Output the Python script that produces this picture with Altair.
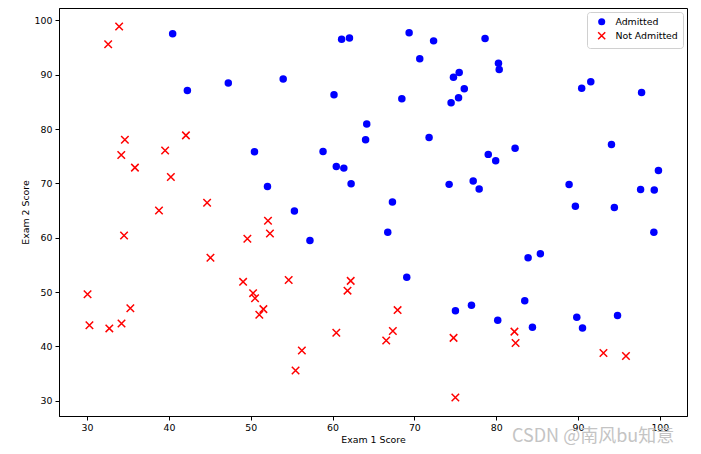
import altair as alt
import pandas as pd

adm_exam1 = [60.18, 79.03, 61.11, 75.02, 76.10, 84.43, 82.31, 69.36, 53.97, 69.07,
             70.66, 76.98, 89.68, 77.92, 62.27, 80.19, 61.38, 85.40, 52.05, 64.18,
             83.90, 94.44, 77.19, 97.77, 62.07, 91.56, 79.94, 99.27, 90.55, 97.65,
             74.25, 71.80, 75.40, 40.46, 80.28, 66.75, 64.04, 72.35, 60.46, 58.84,
             99.83, 47.26, 50.46, 88.91, 94.83, 67.32, 57.24, 80.37, 68.47, 75.48,
             78.64, 94.09, 90.45, 74.49, 89.85, 83.49, 42.26, 99.32, 55.34, 74.78]
adm_exam2 = [86.31, 75.34, 96.51, 46.55, 87.42, 43.53, 76.48, 97.72, 89.21, 52.74,
             92.93, 47.58, 65.80, 68.97, 69.95, 44.82, 72.81, 57.05, 69.43, 80.91,
             56.31, 65.57, 70.46, 86.73, 96.77, 88.70, 74.16, 61.00, 43.39, 68.86,
             69.82, 78.45, 85.76, 97.54, 92.12, 60.99, 78.03, 96.23, 73.09, 75.86,
             72.37, 88.48, 75.81, 69.80, 45.69, 66.59, 59.51, 90.96, 85.59, 90.42,
             96.65, 77.16, 87.51, 84.85, 45.36, 48.38, 87.10, 68.78, 64.93, 89.53]
rej_exam1 = [34.62, 30.29, 35.85, 45.08, 95.86, 75.01, 39.54, 67.95, 67.37, 50.53,
             34.21, 93.11, 61.83, 38.79, 52.11, 40.24, 54.64, 33.92, 74.79, 34.18,
             51.55, 82.37, 51.05, 62.22, 34.52, 50.29, 49.59, 32.58, 35.29, 56.25,
             30.06, 44.67, 66.56, 49.07, 32.72, 60.46, 82.23, 42.08, 52.35, 55.48]
rej_exam2 = [78.02, 43.89, 72.90, 56.32, 38.23, 30.60, 76.04, 46.68, 42.84, 48.86,
             44.21, 38.80, 50.26, 65.00, 63.13, 71.17, 52.21, 98.87, 41.57, 75.24,
             46.86, 40.62, 45.82, 52.06, 60.40, 49.80, 59.81, 95.60, 47.02, 39.26,
             49.59, 66.45, 41.09, 51.88, 43.31, 42.51, 42.72, 78.84, 60.77, 35.57]

labels = ["Admitted", "Not Admitted"]
colors = ["#0000ff", "#ff0000"]
xpath = "M-1,-1L1,1M-1,1L1,-1"

df = pd.concat([
    pd.DataFrame({"Exam 1": adm_exam1, "Exam 2": adm_exam2, "Label": labels[0]}),
    pd.DataFrame({"Exam 1": rej_exam1, "Exam 2": rej_exam2, "Label": labels[1]}),
], ignore_index=True)

font = "DejaVu Sans"
fs = 9.4

points = alt.Chart(df).mark_point(filled=True, strokeWidth=1.5, opacity=1, size=56).encode(
    x=alt.X("Exam 1:Q", title="Exam 1 Score",
            scale=alt.Scale(domain=[26.57, 103.32], nice=False, zero=False),
            axis=alt.Axis(values=[30, 40, 50, 60, 70, 80, 90, 100], grid=False)),
    y=alt.Y("Exam 2:Q", title="Exam 2 Score",
            scale=alt.Scale(domain=[27.19, 102.28], nice=False, zero=False),
            axis=alt.Axis(values=[30, 40, 50, 60, 70, 80, 90, 100], grid=False)),
    fill=alt.Fill("Label:N", scale=alt.Scale(domain=labels, range=colors),
                  legend=alt.Legend(title=None)),
    stroke=alt.Stroke("Label:N", scale=alt.Scale(domain=labels, range=["#0000ff00", "#ff0000"]),
                      legend=alt.Legend(title=None)),
    shape=alt.Shape("Label:N", scale=alt.Scale(domain=labels, range=["circle", xpath]),
                    legend=alt.Legend(title=None)),
)

wm = alt.Chart(pd.DataFrame({"t": ["CSDN @南风bu知意"]})).mark_text(
    align="left", baseline="alphabetic", font="Noto Sans CJK SC", fontSize=18, color="#c4c4c4"
).encode(text="t:N", x=alt.value(453), y=alt.value(434))

chart = alt.layer(points, wm).properties(
    width=628, height=408,
    padding={"left": 59, "top": 8, "right": 14, "bottom": 38},
    autosize=alt.AutoSizeParams(type="none"),
).configure_view(stroke="#000000", strokeWidth=1).configure_axis(
    labelFont=font, titleFont=font, labelFontSize=fs, titleFontSize=fs,
    titleFontWeight="normal", labelColor="#000000", titleColor="#000000",
    domainColor="#000000", tickColor="#000000", tickSize=4, labelPadding=3,
    titlePadding=4,
).configure_legend(
    orient="none", legendX=528, legendY=4, labelFont=font, labelFontSize=fs,
    labelColor="#000000", strokeColor="#d0d0d0", fillColor="#ffffff", cornerRadius=3,
    padding=5, rowPadding=0, symbolOffset=5, labelOffset=9, symbolSize=50,
    symbolStrokeWidth=1.5,
)

chart.save("out.html", embed_options={"renderer": "svg", "actions": False})
